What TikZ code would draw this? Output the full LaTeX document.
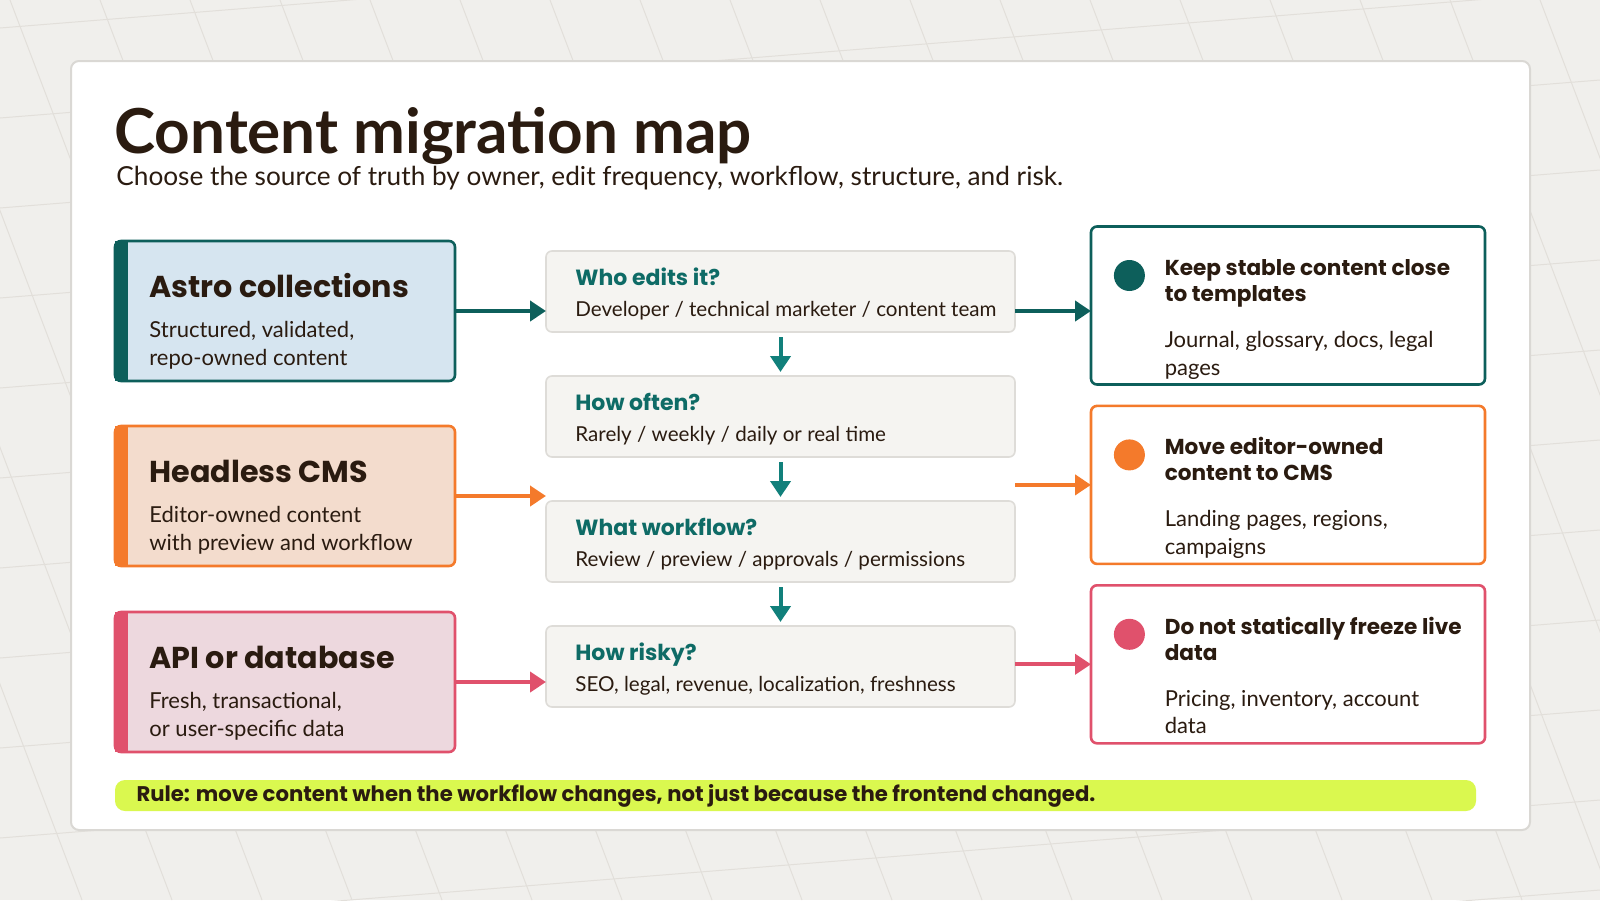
\documentclass[tikz,border=0pt]{standalone}
\usepackage{fontspec}
\setmainfont{Lato}
\newfontfamily\headfont{Poppins}
\usetikzlibrary{arrows.meta,positioning,calc}
\definecolor{Ink}{HTML}{2A1B10}
\definecolor{Paper}{HTML}{F0EFEC}
\definecolor{GridLine}{HTML}{E2DFDA}
\definecolor{CardLine}{HTML}{DAD8D4}
\definecolor{DeepTeal}{HTML}{0D5F5B}
\definecolor{Teal}{HTML}{11807B}
\definecolor{TealText}{HTML}{0E6B66}
\definecolor{Orange}{HTML}{F47A2B}
\definecolor{Rose}{HTML}{E0516C}
\definecolor{SkyFill}{HTML}{D6E5F0}
\definecolor{PeachFill}{HTML}{F3DCCD}
\definecolor{RoseFill}{HTML}{EDD8DE}
\definecolor{StepFill}{HTML}{F5F4F1}
\definecolor{StepLine}{HTML}{DEDCD8}
\definecolor{Lime}{HTML}{DAF84F}

\tikzset{
  srcbox/.style={draw=#1,line width=1.3pt,rounded corners=3pt,minimum width=170pt,minimum height=70pt,inner sep=0pt,outer sep=0pt},
  srctitle/.style={anchor=base west,inner sep=0pt,text=Ink,font=\headfont\bfseries\fontsize{15.1}{18}\selectfont},
  srcbody/.style={anchor=base west,inner sep=0pt,text=Ink,align=left,font=\fontsize{11}{14}\selectfont},
  qbox/.style={draw=StepLine,fill=StepFill,line width=0.8pt,rounded corners=3pt,minimum width=234.5pt,minimum height=40.5pt,inner sep=0pt,outer sep=0pt},
  qtitle/.style={anchor=base west,inner sep=0pt,text=TealText,font=\headfont\bfseries\fontsize{11}{13}\selectfont},
  qbody/.style={anchor=base west,inner sep=0pt,text=Ink,font=\fontsize{10.3}{13}\selectfont},
  outbox/.style={draw=#1,fill=white,line width=1.3pt,rounded corners=3pt,minimum width=197pt,minimum height=79pt,inner sep=0pt,outer sep=0pt},
  markdot/.style={circle,fill=#1,minimum size=15.5pt,inner sep=0pt},
  outhead/.style={anchor=base west,inner sep=0pt,text=Ink,align=left,font=\headfont\bfseries\fontsize{10.8}{13}\selectfont},
  outbody/.style={anchor=base west,inner sep=0pt,text=Ink,align=left,font=\fontsize{11}{13.8}\selectfont},
  flow/.style={draw=#1,line width=2pt,-{Triangle[length=8pt,width=10pt]}}
}

\begin{document}
\begin{tikzpicture}[x=0.5pt,y=-0.5pt]
  \useasboundingbox (0,0) rectangle (1600,900);
  \fill[Paper] (0,0) rectangle (1600,900);
  % faint backdrop grid
  \begin{scope}
    \clip (0,0) rectangle (1600,900);
    \foreach \i in {-4,...,17}
      \draw[GridLine,line width=0.5pt] (10+90*\i,0) -- (10+90*\i+342,900);
    \foreach \j in {-1,...,10}
      \draw[GridLine,line width=0.5pt] (0,118+90*\j) -- (1600,118+90*\j-128);
  \end{scope}
  \filldraw[fill=white,draw=CardLine,line width=1pt,rounded corners=4pt] (71,61) rectangle (1530,830);

  \node[anchor=base west,inner sep=0pt,text=Ink,font=\bfseries\fontsize{31}{36}\selectfont] (title) at (114,153) {Content migration map};
  \node[anchor=base west,inner sep=0pt,text=Ink,font=\fontsize{13.1}{15}\selectfont] (subtitle) at (116,185) {Choose the source of truth by owner, edit frequency, workflow, structure, and risk.};

  % sources
  \node[srcbox=DeepTeal,fill=SkyFill] (astro) at (285,311) {};
  \node[srcbox=Orange,fill=PeachFill,below=22.5pt of astro] (cms) {};
  \node[srcbox=Rose,fill=RoseFill,below=23pt of cms] (api) {};
  \fill[DeepTeal] (astro.north west) rectangle ([xshift=6.4pt]astro.south west);
  \fill[Orange] (cms.north west) rectangle ([xshift=6.4pt]cms.south west);
  \fill[Rose] (api.north west) rectangle ([xshift=6.4pt]api.south west);
  \node[srctitle] (astrohead) at ([xshift=17pt,yshift=-28pt]astro.north west) {Astro collections};
  \node[srcbody] (astrotext) at ([xshift=17pt,yshift=-62pt]astro.north west) {Structured, validated,\\repo-owned content};
  \node[srctitle] (cmshead) at ([xshift=17pt,yshift=-28pt]cms.north west) {Headless CMS};
  \node[srcbody] (cmstext) at ([xshift=17pt,yshift=-62pt]cms.north west) {Editor-owned content\\with preview and workflow};
  \node[srctitle] (apihead) at ([xshift=17pt,yshift=-28pt]api.north west) {API or database};
  \node[srcbody] (apitext) at ([xshift=17pt,yshift=-62pt]api.north west) {Fresh, transactional,\\or user-specific data};

  % questions
  \node[qbox] (who) at (780.5,291.5) {};
  \node[qbox,below=22pt of who] (often) {};
  \node[qbox,below=22pt of often] (workflow) {};
  \node[qbox,below=22pt of workflow] (risk) {};
  \node[qtitle] (whohead) at ([xshift=14.5pt,yshift=-17pt]who.north west) {Who edits it?};
  \node[qbody] (whotext) at ([xshift=14.5pt,yshift=-32.5pt]who.north west) {Developer / technical marketer / content team};
  \node[qtitle] (oftenhead) at ([xshift=14.5pt,yshift=-17pt]often.north west) {How often?};
  \node[qbody] (oftentext) at ([xshift=14.5pt,yshift=-32.5pt]often.north west) {Rarely / weekly / daily or real time};
  \node[qtitle] (workflowhead) at ([xshift=14.5pt,yshift=-17pt]workflow.north west) {What workflow?};
  \node[qbody] (workflowtext) at ([xshift=14.5pt,yshift=-32.5pt]workflow.north west) {Review / preview / approvals / permissions};
  \node[qtitle] (riskhead) at ([xshift=14.5pt,yshift=-17pt]risk.north west) {How risky?};
  \node[qbody] (risktext) at ([xshift=14.5pt,yshift=-32.5pt]risk.north west) {SEO, legal, revenue, localization, freshness};

  % outcomes
  \node[outbox=DeepTeal] (keep) at (1288,305.5) {};
  \node[outbox=Orange,below=10.7pt of keep] (move) {};
  \node[outbox=Rose,below=10.7pt of move] (live) {};
  \node[markdot=DeepTeal] (keepdot) at ([xshift=19.2pt,yshift=-24.5pt]keep.north west) {};
  \node[markdot=Orange] (movedot) at ([xshift=19.2pt,yshift=-24.5pt]move.north west) {};
  \node[markdot=Rose] (livedot) at ([xshift=19.2pt,yshift=-24.5pt]live.north west) {};
  \node[outhead] (keephead) at ([xshift=36.7pt,yshift=-37.5pt]keep.north west) {Keep stable content close\\to templates};
  \node[outbody] (keeptext) at ([xshift=36.7pt,yshift=-74.3pt]keep.north west) {Journal, glossary, docs, legal\\pages};
  \node[outhead] (movehead) at ([xshift=36.7pt,yshift=-37.5pt]move.north west) {Move editor-owned\\content to CMS};
  \node[outbody] (movetext) at ([xshift=36.7pt,yshift=-74.3pt]move.north west) {Landing pages, regions,\\campaigns};
  \node[outhead] (livehead) at ([xshift=36.7pt,yshift=-37.5pt]live.north west) {Do not statically freeze live\\data};
  \node[outbody] (livetext) at ([xshift=36.7pt,yshift=-74.3pt]live.north west) {Pricing, inventory, account\\data};

  % connectors
  \draw[flow=DeepTeal] (astro.east) -- (astro.east -| who.west);
  \draw[flow=Orange] (cms.east) -- (cms.east -| who.west);
  \draw[flow=Rose] (api.east) -- (api.east -| risk.west);
  \draw[flow=DeepTeal] (astro.east -| who.east) -- (astro.east -| keep.west);
  \draw[flow=Orange] (move.west -| who.east) -- (move.west);
  \draw[flow=Rose] (live.west -| risk.east) -- (live.west);
  \foreach \a/\b in {who/often,often/workflow,workflow/risk}
    \draw[flow=Teal,shorten <=2.5pt,shorten >=2pt] (\a) -- (\b);

  % rule strip
  \node[fill=Lime,rounded corners=5pt,minimum width=680.5pt,minimum height=15.5pt,inner sep=0pt] (rule) at (795.5,795.5) {};
  \node[anchor=base west,inner sep=0pt,text=Ink,font=\headfont\bfseries\fontsize{10.6}{12}\selectfont] (ruletext) at ([xshift=10.75pt,yshift=-3pt]rule.west) {Rule: move content when the workflow changes, not just because the frontend changed.};
\end{tikzpicture}
\end{document}
